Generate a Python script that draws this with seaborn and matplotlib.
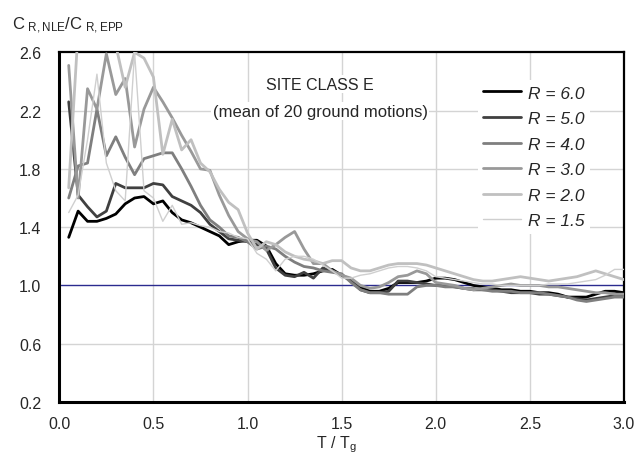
import numpy as np
import pandas as pd
import matplotlib
matplotlib.use('Agg')
import matplotlib.pyplot as plt
import seaborn as sns

# 周期比 T/Tg
t_ratio = np.round(np.arange(1, 61) * 0.05, 2)

r_60 = [1.33, 1.51, 1.44, 1.44, 1.46, 1.49, 1.56, 1.60, 1.61, 1.56,
        1.58, 1.50, 1.45, 1.43, 1.40, 1.37, 1.34, 1.28, 1.30, 1.31,
        1.31, 1.27, 1.15, 1.08, 1.07, 1.07, 1.08, 1.10, 1.11, 1.07,
        1.04, 0.99, 0.96, 0.96, 0.98, 1.02, 1.02, 1.02, 1.03, 1.05,
        1.05, 1.04, 1.02, 1.00, 0.99, 0.98, 0.97, 0.97, 0.96, 0.96,
        0.95, 0.95, 0.94, 0.92, 0.92, 0.92, 0.94, 0.96, 0.96, 0.95]
r_50 = [2.26, 1.62, 1.54, 1.47, 1.51, 1.70, 1.67, 1.67, 1.67, 1.70,
        1.69, 1.61, 1.58, 1.55, 1.50, 1.42, 1.37, 1.32, 1.31, 1.30,
        1.28, 1.25, 1.12, 1.07, 1.06, 1.09, 1.05, 1.12, 1.10, 1.07,
        1.03, 0.97, 0.95, 0.95, 0.96, 1.03, 1.03, 1.02, 1.01, 1.00,
        1.00, 0.99, 0.98, 0.97, 0.97, 0.97, 0.96, 0.95, 0.95, 0.95,
        0.94, 0.94, 0.93, 0.92, 0.91, 0.90, 0.91, 0.92, 0.93, 0.93]
r_40 = [1.60, 1.82, 1.84, 2.21, 1.89, 2.02, 1.88, 1.76, 1.87, 1.89,
        1.91, 1.91, 1.80, 1.68, 1.55, 1.45, 1.40, 1.34, 1.33, 1.30,
        1.25, 1.27, 1.25, 1.20, 1.16, 1.13, 1.12, 1.10, 1.09, 1.08,
        1.02, 0.97, 0.95, 0.95, 0.94, 0.94, 0.94, 0.99, 1.00, 1.00,
        0.99, 0.99, 0.98, 0.98, 0.97, 0.96, 0.96, 0.96, 0.95, 0.95,
        0.95, 0.94, 0.93, 0.92, 0.90, 0.89, 0.90, 0.91, 0.92, 0.92]
r_30 = [2.51, 1.60, 2.35, 2.21, 2.59, 2.31, 2.42, 1.95, 2.21, 2.36,
        2.26, 2.15, 2.03, 1.92, 1.80, 1.79, 1.62, 1.48, 1.37, 1.32,
        1.30, 1.24, 1.28, 1.33, 1.37, 1.25, 1.15, 1.15, 1.10, 1.07,
        1.05, 1.00, 0.98, 0.99, 1.02, 1.06, 1.07, 1.10, 1.08, 1.02,
        1.01, 1.00, 0.98, 0.97, 0.98, 0.99, 1.00, 1.01, 1.00, 1.00,
        1.00, 0.99, 0.99, 0.98, 0.97, 0.96, 0.95, 0.95, 0.94, 0.94]
r_20 = [1.67, 2.75, 2.90, 2.90, 2.80, 2.65, 2.36, 2.60, 2.56, 2.43,
        1.90, 2.14, 1.93, 2.00, 1.84, 1.78, 1.66, 1.57, 1.52, 1.36,
        1.25, 1.30, 1.28, 1.23, 1.20, 1.18, 1.17, 1.15, 1.17, 1.17,
        1.12, 1.10, 1.10, 1.12, 1.14, 1.15, 1.15, 1.15, 1.14, 1.12,
        1.10, 1.08, 1.06, 1.04, 1.03, 1.03, 1.04, 1.05, 1.06, 1.05,
        1.04, 1.03, 1.04, 1.05, 1.06, 1.08, 1.10, 1.08, 1.06, 1.04]
r_15 = [1.50, 1.62, 2.00, 2.45, 1.84, 1.65, 1.58, 2.60, 1.65, 1.60,
        1.44, 1.55, 1.42, 1.43, 1.41, 1.40, 1.37, 1.36, 1.33, 1.32,
        1.22, 1.18, 1.10, 1.18, 1.20, 1.20, 1.18, 1.14, 1.10, 1.05,
        1.05, 1.07, 1.08, 1.10, 1.12, 1.13, 1.13, 1.12, 1.10, 1.06,
        1.05, 1.04, 1.03, 1.02, 1.01, 1.01, 1.00, 1.00, 1.00, 1.00,
        1.00, 1.01, 1.01, 1.01, 1.02, 1.03, 1.04, 1.07, 1.11, 1.11]

r_labels = ['R = 6.0', 'R = 5.0', 'R = 4.0', 'R = 3.0', 'R = 2.0', 'R = 1.5']
series = [r_60, r_50, r_40, r_30, r_20, r_15]
colors = ['#000000', '#404040', '#7f7f7f', '#999999', '#c0c0c0', '#cfcfcf']
widths = [2.0, 2.0, 2.0, 2.0, 2.0, 1.0]

sns.set_style('white')
plt.rcParams['font.family'] = ['Liberation Sans', 'DejaVu Sans']

fig = plt.figure(figsize=(6.39, 4.64), dpi=100)
ax = fig.add_axes([59.3 / 639, 1 - 403 / 464, (624 - 59.3) / 639, (403 - 53.3) / 464])

# 网格线
for gx in [0.5, 1.0, 1.5, 2.0, 2.5]:
    ax.axvline(gx, color='#d4d4d4', lw=1.0, zorder=0)
for gy in [0.6, 1.4, 1.8, 2.2]:
    ax.axhline(gy, color='#d4d4d4', lw=1.0, zorder=0)
ax.axhline(1.0, color='#2b2b8f', lw=1.0, zorder=1)

for lab, vals, c, w in zip(r_labels, series, colors, widths):
    df = pd.DataFrame({'T': t_ratio, 'C': vals})
    sns.lineplot(data=df, x='T', y='C', color=c, lw=w, ax=ax, label=lab, zorder=3)

ax.set_xlim(0, 3.0)
ax.set_ylim(0.2, 2.6)
ax.set_xticks([0.0, 0.5, 1.0, 1.5, 2.0, 2.5, 3.0])
ax.set_yticks([0.2, 0.6, 1.0, 1.4, 1.8, 2.2, 2.6])
ax.set_xticklabels(['0.0', '0.5', '1.0', '1.5', '2.0', '2.5', '3.0'], fontsize=11.5)
ax.set_yticklabels(['0.2', '0.6', '1.0', '1.4', '1.8', '2.2', '2.6'], fontsize=11.5)
ax.tick_params(axis='both', direction='out', length=4, width=1, color='black')
ax.tick_params(axis='y', pad=9)
ax.tick_params(axis='x', pad=6)
for sp in ax.spines.values():
    sp.set_color('black')
    sp.set_linewidth(1.6)
ax.spines['left'].set_linewidth(2.2)
ax.spines['bottom'].set_linewidth(2.2)
ax.set_xlabel('')
ax.set_ylabel('')

fig.text(336 / 639, 1 - 448 / 464, r'T / T$_\mathregular{g}$', fontsize=11.5, ha='center', va='baseline')
fig.text(12 / 639, 1 - 30 / 464, r'$\mathregular{C_{\ R,NLE}/C_{\ R,EPP}}$', fontsize=12, ha='left', va='baseline')

ax.text(1.385, 2.38, 'SITE CLASS E', fontsize=11.5, ha='center', va='center',
        bbox=dict(facecolor='white', edgecolor='none', pad=1), zorder=2)
ax.text(1.385, 2.196, '(mean of 20 ground motions)', fontsize=12, ha='center', va='center',
        bbox=dict(facecolor='white', edgecolor='none', pad=1), zorder=2)

leg = ax.legend(loc='upper right', bbox_to_anchor=(0.955, 0.945), frameon=True, fancybox=False,
                edgecolor='none', facecolor='white', framealpha=1, fontsize=12.5,
                handlelength=2.2, handletextpad=0.4, labelspacing=0.6, borderpad=0.3)
for t in leg.get_texts():
    t.set_fontstyle('italic')
leg.set_zorder(4)

fig.savefig('out.png', dpi=100)
